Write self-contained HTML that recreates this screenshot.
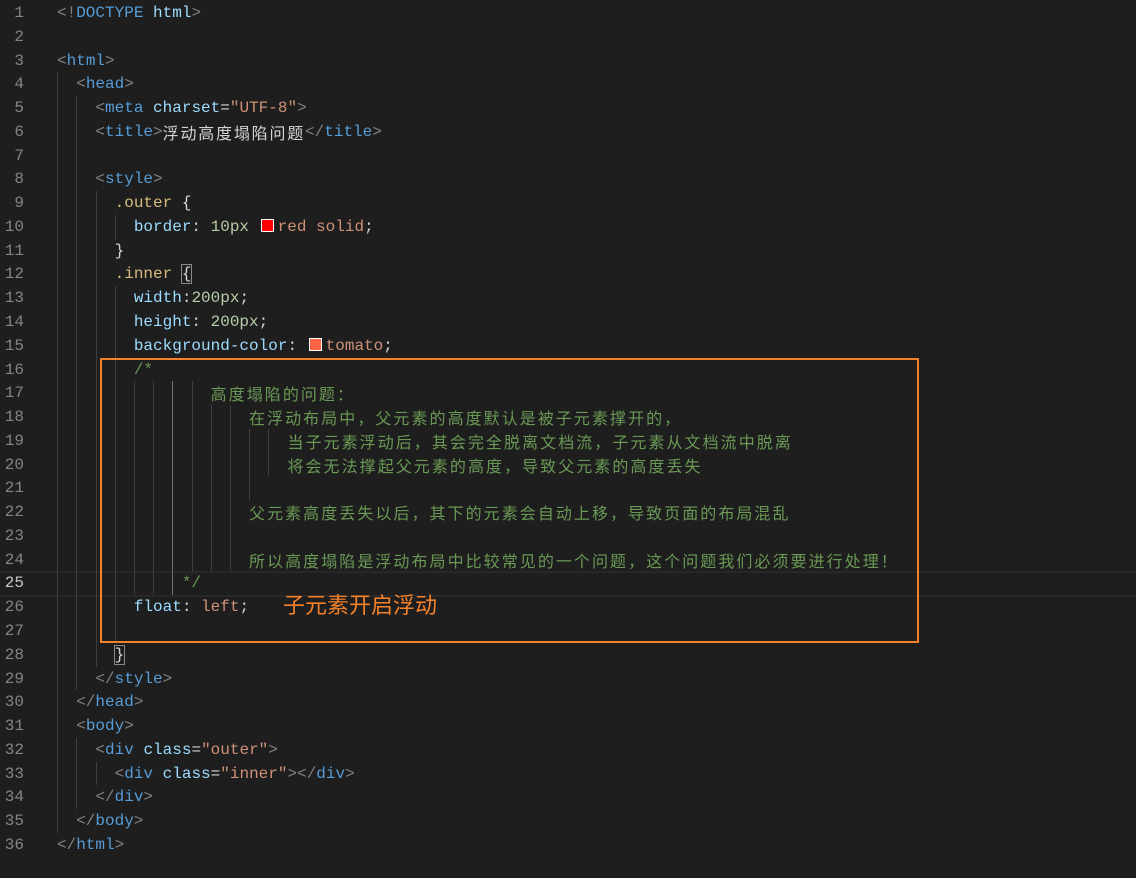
<!DOCTYPE html>
<html><head><meta charset="UTF-8"><style>
body{margin:0;width:1136px;height:878px;background:#1e1e1e;overflow:hidden;position:relative;font-family:"Liberation Mono","Noto Sans CJK SC",monospace;font-size:16px}
.l{position:absolute;left:57px;height:24px;line-height:24px;white-space:pre;color:#d4d4d4}
.n{position:absolute;left:0;width:24px;text-align:right;height:24px;line-height:24px;color:#858585;font-size:16px}
.g{position:absolute;width:1px;background:#404040}
.c{font-family:"Noto Sans CJK SC",sans-serif;letter-spacing:2.05px;font-size:16px;display:inline-block;height:24px;line-height:24px;vertical-align:top}
.p{color:#808080}.t{color:#569cd6}.a{color:#9cdcfe}.s{color:#ce9178}.sel{color:#d7ba7d}.num{color:#b5cea8}.cm{color:#6a9955}.w{color:#d4d4d4}
.sw{display:inline-block;width:11px;height:11px;border:1px solid #fff;margin:0 4px 0 2px;vertical-align:-1px}
</style></head><body>
<div style="position:absolute;left:0;top:571px;width:1136px;height:22px;border-top:2px solid #282828;border-bottom:2px solid #282828"></div>
<div id="g"></div>
<div id="c"></div>
<div style="position:absolute;left:100px;top:358px;width:815px;height:281px;border:2px solid #f5822a"></div>
<div style="position:absolute;left:283px;top:589px;color:#f5822a;font-family:'Noto Sans CJK SC',sans-serif;font-size:22px;line-height:30px">子元素开启浮动</div>
<script>
const L=[
'<span class="p">&lt;!</span><span class="t">DOCTYPE</span> <span class="a">html</span><span class="p">&gt;</span>',
'',
'<span class="p">&lt;</span><span class="t">html</span><span class="p">&gt;</span>',
'  <span class="p">&lt;</span><span class="t">head</span><span class="p">&gt;</span>',
'    <span class="p">&lt;</span><span class="t">meta</span> <span class="a">charset</span>=<span class="s">"UTF-8"</span><span class="p">&gt;</span>',
'    <span class="p">&lt;</span><span class="t">title</span><span class="p">&gt;</span><span class="c" style="letter-spacing:1.8px">浮动高度塌陷问题</span><span class="p">&lt;/</span><span class="t">title</span><span class="p">&gt;</span>',
'',
'    <span class="p">&lt;</span><span class="t">style</span><span class="p">&gt;</span>',
'      <span class="sel">.outer</span> {',
'        <span class="a">border</span>: <span class="num">10px</span> <span class="sw" style="background:red"></span><span class="s">red solid</span>;',
'      }',
'      <span class="sel">.inner</span> <span style="outline:1px solid #888">{</span>',
'        <span class="a">width</span>:<span class="num">200px</span>;',
'        <span class="a">height</span>: <span class="num">200px</span>;',
'        <span class="a">background-color</span>: <span class="sw" style="background:tomato"></span><span class="s">tomato</span>;',
'        <span class="cm">/*</span>',
'                <span class="cm c">高度塌陷的问题：</span>',
'                    <span class="cm c">在浮动布局中，父元素的高度默认是被子元素撑开的，</span>',
'                        <span class="cm c">当子元素浮动后，其会完全脱离文档流，子元素从文档流中脱离</span>',
'                        <span class="cm c">将会无法撑起父元素的高度，导致父元素的高度丢失</span>',
'',
'                    <span class="cm c">父元素高度丢失以后，其下的元素会自动上移，导致页面的布局混乱</span>',
'',
'                    <span class="cm c">所以高度塌陷是浮动布局中比较常见的一个问题，这个问题我们必须要进行处理！</span>',
'             <span class="cm">*/</span>',
'        <span class="a">float</span>: <span class="s">left</span>;',
'',
'      <span style="outline:1px solid #888">}</span>',
'    <span class="p">&lt;/</span><span class="t">style</span><span class="p">&gt;</span>',
'  <span class="p">&lt;/</span><span class="t">head</span><span class="p">&gt;</span>',
'  <span class="p">&lt;</span><span class="t">body</span><span class="p">&gt;</span>',
'    <span class="p">&lt;</span><span class="t">div</span> <span class="a">class</span>=<span class="s">"outer"</span><span class="p">&gt;</span>',
'      <span class="p">&lt;</span><span class="t">div</span> <span class="a">class</span>=<span class="s">"inner"</span><span class="p">&gt;&lt;/</span><span class="t">div</span><span class="p">&gt;</span>',
'    <span class="p">&lt;/</span><span class="t">div</span><span class="p">&gt;</span>',
'  <span class="p">&lt;/</span><span class="t">body</span><span class="p">&gt;</span>',
'<span class="p">&lt;/</span><span class="t">html</span><span class="p">&gt;</span>'];
const LH=23.77,T0=1;
let h='';
L.forEach((s,i)=>{const y=T0+i*LH;
h+=`<div class="n" style="top:${y}px;${i==24?'color:#c6c6c6':''}">${i+1}</div><div class="l" style="top:${y}px">${s}</div>`;});
document.getElementById('c').innerHTML=h;
const G=[[57,4,35],[76,5,29],[76,32,34],[96,9,28],[96,33,33],[115,10,10],[115,13,27],[134,17,25],[153,17,25],[172,17,25],[192,17,24],[211,18,24],[230,18,24],[249,19,21],[268,19,20]];
let g='';
G.forEach(([x,a,b])=>{g+=`<div class="g" style="left:${x}px;top:${T0+(a-1)*LH}px;height:${(b-a+1)*LH}px;${x==172?'background:#707070':''}"></div>`;});
document.getElementById('g').innerHTML=g;
</script>
</body></html>
